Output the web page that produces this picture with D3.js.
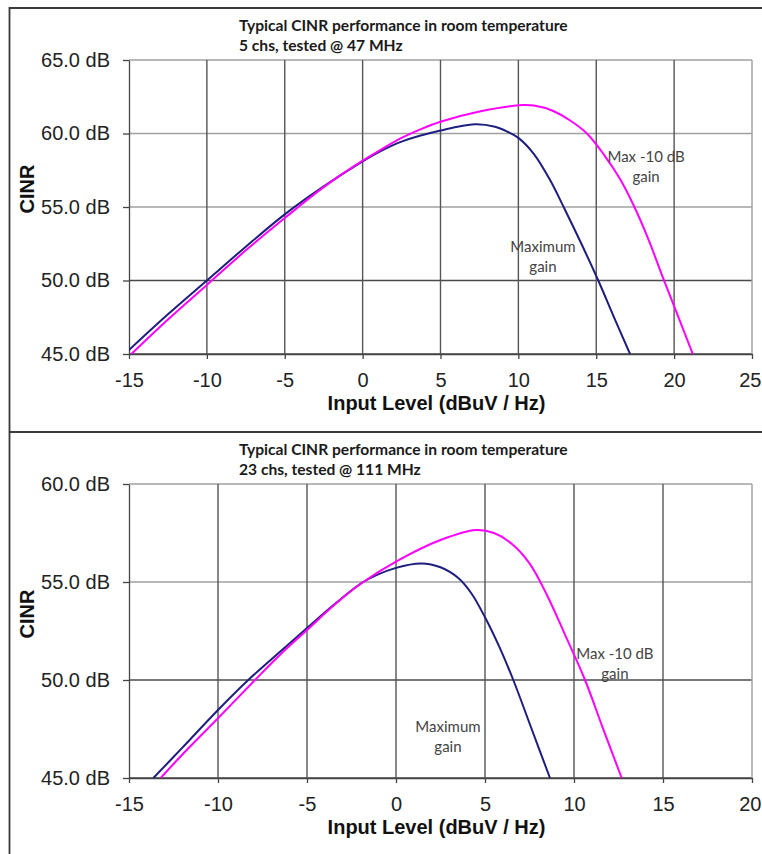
<!DOCTYPE html>
<html>
<head>
<meta charset="utf-8">
<script src="https://cdn.jsdelivr.net/npm/d3@7"></script>
<style>
  body { margin: 0; background: #fff; }
  .axis text { font-family: 'Liberation Sans', Arial, sans-serif; font-size: 20px; fill: #222; }
  .axis path, .axis line { stroke: #444; stroke-width: 1.3px; }
  .axisTitle { font-family: 'Liberation Sans', Arial, sans-serif; font-size: 20px; font-weight: bold; fill: #111; }
  .chartTitle { font-family: Lato, 'Open Sans', sans-serif; font-size: 15.6px; font-weight: bold; fill: #1a1a1a; }
  .note { font-family: Lato, 'Open Sans', sans-serif; font-size: 15px; fill: #444; }
</style>
</head>
<body>
<div class="chart"></div>
<script>
// top panel: 5 chs @ 47 MHz
var xTicksTop = [-15, -10, -5, 0, 5, 10, 15, 20, 25];
var yTicksTop = [45, 50, 55, 60, 65];
var maxGainTop = [[-15, 45.27], [-12.5, 47.7], [-10, 50.0], [-7.5, 52.3], [-5, 54.5], [-2.5, 56.4], [0, 58.1],
  [1.25, 58.85], [2.5, 59.45], [5, 60.2], [7.2, 60.63], [8.5, 60.46], [9.3, 60.12], [10, 59.7], [11, 58.6],
  [12, 56.9], [13, 54.8], [14, 52.6], [15.13, 50.0], [16.1, 47.6], [17.17, 45.0]];
var maxMinus10Top = [[-14.85, 45.0], [-12.5, 47.35], [-10, 49.7], [-7.5, 52.05], [-5, 54.25], [-2.5, 56.35],
  [0, 58.15], [1.25, 58.95], [2.5, 59.7], [3.75, 60.3], [5, 60.8], [7.5, 61.5], [10.3, 61.94], [11, 61.9],
  [12.2, 61.55], [13.3, 60.9], [14.4, 60.0], [15.5, 58.55], [16.5, 56.95], [17.45, 55.0], [18.35, 52.8],
  [19.26, 50.25], [20, 48.25], [21.2, 45.0]];

// bottom panel: 23 chs @ 111 MHz
var xTicksBottom = [-15, -10, -5, 0, 5, 10, 15, 20];
var yTicksBottom = [45, 50, 55, 60];
var maxGainBottom = [[-13.63, 45], [-12, 46.55], [-10, 48.47], [-8.3, 50.0], [-6.5, 51.45], [-5, 52.65],
  [-3.34, 53.95], [-1.84, 55.0], [0, 55.72], [1.44, 55.95], [2.5, 55.75], [3.5, 55.2], [4.25, 54.4],
  [5, 53.2], [5.8, 51.7], [6.59, 50.0], [7.6, 47.55], [8.65, 45]];
var maxMinus10Bottom = [[-13.22, 45], [-12, 46.2], [-10, 48.05], [-7.92, 50.0], [-6.5, 51.3], [-5, 52.55],
  [-3.34, 53.93], [-1.84, 55.0], [0, 56.04], [2.5, 57.14], [4.5, 57.65], [5.5, 57.5], [6.5, 56.95],
  [7.5, 55.95], [8.5, 54.3], [9.5, 52.3], [10.62, 50.0], [11.6, 47.6], [12.68, 45]];

var titleLine1 = 'Typical CINR performance in room temperature';
var subTitles = ['5 chs, tested @ 47 MHz', '23 chs, tested @ 111 MHz'];

var svgWidth = 762;
var svgHeight = 854;

var svg = d3.select('.chart')
  .append('svg')
  .attr('width', svgWidth)
  .attr('height', svgHeight);

svg.append('rect').attr('width', svgWidth).attr('height', svgHeight).attr('fill', '#fff');

// panel frames
svg.append('path')
  .attr('d', 'M 775 8 H 9.5 V 870 M 9.5 432 H 775')
  .attr('fill', 'none')
  .attr('stroke', '#3a3a3a')
  .attr('stroke-width', 1.8);

function drawPanel(cfg) {
  var left = 129, right = 752;
  var width = right - left;
  var height = cfg.bottom - cfg.top;

  var g = svg.append('g').attr('transform', `translate(${left}, ${cfg.top})`);

  var x = d3.scaleLinear().domain(d3.extent(cfg.xTicks)).range([0, width]);
  var y = d3.scaleLinear().domain(d3.extent(cfg.yTicks)).range([height, 0]);

  // grid
  g.selectAll('.hgrid')
    .data(cfg.yTicks)
    .enter()
    .append('line')
    .attr('x1', 0).attr('x2', width)
    .attr('y1', d => y(d)).attr('y2', d => y(d))
    .attr('stroke', d => d <= 50 ? '#4a4a4a' : '#a0a0a0')
    .attr('stroke-width', 1.5);

  g.selectAll('.vgrid')
    .data(cfg.xTicks.slice(1))
    .enter()
    .append('line')
    .attr('x1', d => x(d)).attr('x2', d => x(d))
    .attr('y1', 0).attr('y2', height)
    .attr('stroke', (d, i, n) => i === n.length - 1 ? '#a0a0a0' : '#555')
    .attr('stroke-width', 1.4);

  // axes
  g.append('g')
    .attr('class', 'axis')
    .call(d3.axisLeft(y).tickValues(cfg.yTicks).tickSize(6).tickSizeOuter(0).tickPadding(13)
      .tickFormat(d => d.toFixed(1) + ' dB'));

  var xAxis = g.append('g')
    .attr('class', 'axis')
    .attr('transform', `translate(0, ${height})`)
    .call(d3.axisBottom(x).tickValues(cfg.xTicks).tickSize(5).tickSizeOuter(0).tickPadding(14)
      .tickFormat(d => d < 0 ? '-' + Math.abs(d) : d));

  // last label sits on the page edge: keep it inside
  xAxis.selectAll('.tick text')
    .filter((d, i, n) => i === n.length - 1)
    .attr('text-anchor', 'end')
    .attr('x', svgWidth - right - 1);

  // curves
  var clipId = 'clip' + cfg.top;
  g.append('clipPath').attr('id', clipId)
    .append('rect').attr('x', 0).attr('y', -2).attr('width', width).attr('height', height + 2);

  var line = d3.line()
    .x(d => x(d[0]))
    .y(d => y(d[1]))
    .curve(d3.curveCatmullRom.alpha(0.5));

  g.append('path')
    .datum(cfg.maxGain)
    .attr('clip-path', `url(#${clipId})`)
    .attr('d', line)
    .attr('fill', 'none')
    .attr('stroke', '#1e1e7e')
    .attr('stroke-width', 2);

  g.append('path')
    .datum(cfg.maxMinus10)
    .attr('clip-path', `url(#${clipId})`)
    .attr('d', line)
    .attr('fill', 'none')
    .attr('stroke', '#ff00ff')
    .attr('stroke-width', 2);

  // notes
  cfg.notes.forEach(function(n) {
    var t = g.append('text')
      .attr('class', 'note')
      .attr('text-anchor', 'middle')
      .attr('x', x(n.x))
      .attr('y', y(n.y));
    n.lines.forEach(function(s, i) {
      t.append('tspan').attr('x', x(n.x)).attr('dy', i === 0 ? 0 : 20).text(s);
    });
  });

  // titles
  svg.append('text')
    .attr('class', 'chartTitle')
    .attr('x', 239)
    .attr('y', cfg.top - 29)
    .text(titleLine1);
  svg.append('text')
    .attr('class', 'chartTitle')
    .attr('x', 239)
    .attr('y', cfg.top - 9)
    .text(cfg.subTitle);

  svg.append('text')
    .attr('class', 'axisTitle')
    .attr('text-anchor', 'middle')
    .attr('x', left + width / 2 - 4)
    .attr('y', cfg.bottom + 56)
    .text('Input Level (dBuV / Hz)');

  svg.append('text')
    .attr('class', 'axisTitle')
    .attr('text-anchor', 'middle')
    .attr('transform', `translate(34, ${cfg.cinrY}) rotate(-90)`)
    .text('CINR');
}

drawPanel({
  top: 60, bottom: 354, cinrY: 189,
  xTicks: xTicksTop, yTicks: yTicksTop,
  maxGain: maxGainTop, maxMinus10: maxMinus10Top,
  subTitle: subTitles[0],
  notes: [
    { x: 18.2, y: 58.06, lines: ['Max -10 dB', 'gain'] },
    { x: 11.58, y: 51.94, lines: ['Maximum', 'gain'] }
  ]
});

drawPanel({
  top: 484, bottom: 778, cinrY: 614,
  xTicks: xTicksBottom, yTicks: yTicksBottom,
  maxGain: maxGainBottom, maxMinus10: maxMinus10Bottom,
  subTitle: subTitles[1],
  notes: [
    { x: 12.3, y: 51.07, lines: ['Max -10 dB', 'gain'] },
    { x: 2.92, y: 47.35, lines: ['Maximum', 'gain'] }
  ]
});
</script>
</body>
</html>
